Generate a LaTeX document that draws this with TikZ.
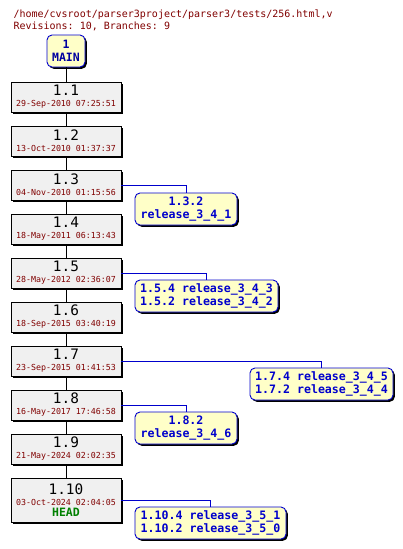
\documentclass[tikz,border=0pt]{standalone}
\usepackage{fontspec}
\setmonofont{DejaVu Sans Mono}
\usetikzlibrary{shadows}

\definecolor{datered}{HTML}{800000}
\definecolor{tagblue}{HTML}{0000CC}
\definecolor{mainblue}{HTML}{0000A0}
\definecolor{headgreen}{HTML}{008000}
\definecolor{revgray}{HTML}{F0F0F0}
\definecolor{tagyellow}{HTML}{FFFFC8}

\newcommand{\revnum}[1]{{\fontsize{14.4}{15}\selectfont #1}}
\newcommand{\revdate}[1]{{\fontsize{8.3}{9}\selectfont\color{datered} #1}}
\newcommand{\tagtext}{\fontsize{11.6}{13}\selectfont\bfseries}

\begin{document}
\begin{tikzpicture}[x=1pt, y=-1pt, font=\ttfamily,
    revbox/.style={draw=black, line width=0.9pt, fill=revgray, minimum width=110pt, minimum height=30pt,
        inner sep=0pt, align=center,
        drop shadow={shadow xshift=1.8pt, shadow yshift=-1.8pt, fill=black, opacity=1}},
    tagbox/.style={draw=tagblue, line width=0.9pt, fill=tagyellow, rounded corners=5pt, inner sep=0pt,
        minimum height=32pt, text=tagblue, align=center, font=\ttfamily\tagtext,
        drop shadow={shadow xshift=1.8pt, shadow yshift=-1.8pt, fill=black, opacity=1}},
    revline/.style={draw=black, line width=0.9pt},
    tagline/.style={draw=tagblue, line width=0.9pt}]
    \useasboundingbox (0,0) rectangle (403,549);

    % Kopf: Datei und Zahlen
    \node[anchor=base west, text=datered, font=\ttfamily\fontsize{10}{12}\selectfont] (file) at (10,17)
        {/home/cvsroot/parser3project/parser3/tests/256.html,v};
    \node[anchor=base west, text=datered, font=\ttfamily\fontsize{10}{12}\selectfont] (stats) at (10,29)
        {Revisions: 10, Branches: 9};

    % Wurzel des Stammes
    \node[draw=tagblue, line width=0.9pt, fill=tagyellow, rounded corners=5pt, minimum width=38pt,
        minimum height=32pt, inner sep=0pt, align=center, text=mainblue,
        font=\ttfamily\fontsize{11.5}{13}\selectfont\bfseries,
        drop shadow={shadow xshift=1.8pt, shadow yshift=-1.8pt, fill=black, opacity=1}]
        (main) at (66,51) {1\\MAIN};

    % Revisionen auf dem Stamm
    \foreach \n/\r/\d/\y in {
        1/1.1/29-Sep-2010 07:25:51/97, 2/1.2/13-Oct-2010 01:37:37/141,
        3/1.3/04-Nov-2010 01:15:56/185, 4/1.4/18-May-2011 06:13:43/229,
        5/1.5/28-May-2012 02:36:07/273, 6/1.6/18-Sep-2015 03:40:19/317,
        7/1.7/23-Sep-2015 01:41:53/361, 8/1.8/16-May-2017 17:46:58/405,
        9/1.9/21-May-2024 02:02:35/449
    } {
        \node[revbox] (r\n) at (66,\y) {\revnum{\r}\\[-1pt]\revdate{\d}};
    }
    \node[revbox, minimum height=44pt] (r10) at (66,500)
        {\revnum{1.10}\\[-1pt]\revdate{03-Oct-2024 02:04:05}\\[-1pt]
         {\fontsize{11.5}{13}\selectfont\bfseries\color{headgreen}HEAD}};

    % Stammlinie
    \draw[revline] (main) -- (r1);
    \foreach \a/\b in {1/2, 2/3, 3/4, 4/5, 5/6, 6/7, 7/8, 8/9, 9/10} {
        \draw[revline] (r\a) -- (r\b);
    }

    % Zweige mit ihren Tags
    \node[tagbox, minimum width=102pt] (b3) at (186,209) {1.3.2\\release\_3\_4\_1};
    \node[tagbox, minimum width=143pt] (b5) at (206.5,296) {1.5.4 release\_3\_4\_3\\1.5.2 release\_3\_4\_2};
    \node[tagbox, minimum width=143pt] (b7) at (321.5,384) {1.7.4 release\_3\_4\_5\\1.7.2 release\_3\_4\_4};
    \node[tagbox, minimum width=102pt] (b8) at (186,428) {1.8.2\\release\_3\_4\_6};
    \node[tagbox, minimum width=151pt] (b10) at (210.5,523) {1.10.4 release\_3\_5\_1\\1.10.2 release\_3\_5\_0};

    \foreach \n in {3, 5, 7, 8, 10} {
        \draw[tagline] (r\n.east) -| (b\n.north);
    }
\end{tikzpicture}
\end{document}
